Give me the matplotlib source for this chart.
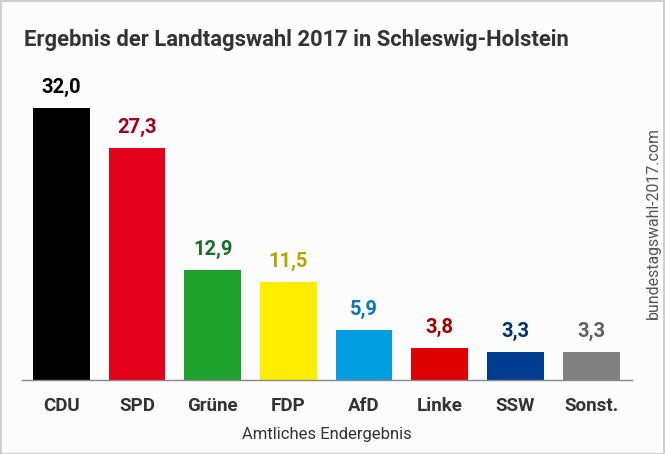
import matplotlib.pyplot as plt
from matplotlib.patches import Rectangle

parties = ["CDU", "SPD", "Grüne", "FDP", "AfD", "Linke", "SSW", "Sonst."]
shares = [32.0, 27.3, 12.9, 11.5, 5.9, 3.8, 3.3, 3.3]
labels = ["32,0", "27,3", "12,9", "11,5", "5,9", "3,8", "3,3", "3,3"]
bar_colors = ["#000000", "#e3001b", "#1fa12e", "#ffed00", "#009ee0", "#df0000", "#003c8f", "#808080"]
text_colors = ["#000000", "#a5001a", "#1b6e2a", "#b8a400", "#0a78b0", "#a00000", "#003070", "#606060"]

plt.rcParams["font.family"] = ["Roboto", "DejaVu Sans"]

W, H = 665, 454
fig = plt.figure(figsize=(W / 100, H / 100), dpi=100)
fig.patch.set_facecolor("#fcfcfc")
fig.patches.append(Rectangle((0.5 / W, 0.5 / H), 1 - 1.5 / W, 1 - 1.5 / H,
                             transform=fig.transFigure, fill=False,
                             edgecolor="#cfcfcf", linewidth=1.5))

ax = fig.add_axes([22 / W, 1 - 380 / H, 610 / W, 300 / H])
ax.set_facecolor("none")
x = range(len(parties))
ax.bar(x, shares, width=0.75, color=bar_colors)
for i, (v, lab) in enumerate(zip(shares, labels)):
    ax.annotate(lab, (i, v), xytext=(0, 8), textcoords="offset points",
                ha="center", va="bottom", fontsize=14.5, fontweight="bold",
                color=text_colors[i])

ax.set_xlim(-0.52, 7.54)
ax.set_ylim(0, 35.3)
ax.set_yticks([])
ax.set_xticks(list(x))
ax.set_xticklabels(parties, fontsize=13.5, fontweight="bold", color="#333333")
ax.tick_params(axis="x", length=0, pad=12)
for s in ["top", "left", "right"]:
    ax.spines[s].set_visible(False)
ax.spines["bottom"].set_color("#888888")
ax.spines["bottom"].set_linewidth(1)

fig.text(24 / W, 1 - 40 / H, "Ergebnis der Landtagswahl 2017 in Schleswig-Holstein",
         fontsize=15.8, fontweight="bold", color="#333333", ha="left", va="center")
fig.text(327 / W, 1 - 435 / H, "Amtliches Endergebnis", fontsize=12,
         color="#333333", ha="center", va="center")
fig.text(653 / W, 1 - 223 / H, "bundestagswahl-2017.com", fontsize=11.4,
         color="#555555", rotation=90, ha="center", va="center")

fig.savefig("out.png", dpi=100, facecolor=fig.get_facecolor())
